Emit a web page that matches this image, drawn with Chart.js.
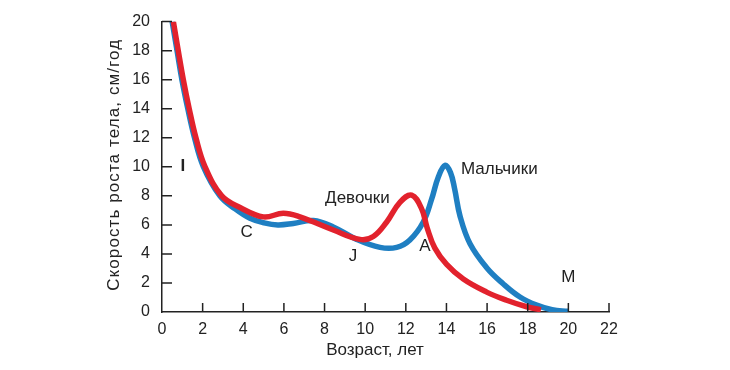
<!DOCTYPE html>
<html>
<head>
<meta charset="utf-8">
<script src="https://cdn.jsdelivr.net/npm/chart.js@4"></script>
<style>
  html, body { margin: 0; padding: 0; background: #fff; }
  #wrap { width: 730px; height: 370px; }
</style>
</head>
<body>
<div id="wrap"><canvas id="growthChart" width="730" height="370"></canvas></div>
<script>
// Скорость роста (см/год) в зависимости от возраста (лет)
const girlsAge = [0.56, 0.8, 1.05, 1.34, 1.67, 2.12, 2.94, 3.84, 4.99, 5.97, 6.79, 8.43, 9.74, 10.4, 11.06, 11.71, 12.29, 12.78, 13.05, 13.43, 14.01, 14.83, 15.98, 16.96, 17.95, 18.65];
const girlsSpeed = [20, 18, 16, 14, 12, 10, 8, 7.2, 6.55, 6.8, 6.55, 5.65, 5.0, 5.2, 6.2, 7.55, 8.05, 7.1, 5.8, 4.4, 3.28, 2.27, 1.37, 0.81, 0.36, 0.15];

const boysAge = [0.5, 0.74, 0.98, 1.27, 1.6, 2.04, 2.85, 3.6, 4.33, 5.0, 5.7, 6.46, 7.45, 8.43, 9.58, 10.73, 11.55, 12.2, 12.86, 13.27, 13.6, 13.93, 14.2, 14.4, 14.67, 15.16, 15.98, 16.8, 17.62, 18.44, 19.2, 20.0];
const boysSpeed = [20, 18, 16, 14, 12, 10, 8, 7.1, 6.45, 6.15, 6.0, 6.1, 6.3, 5.86, 5.0, 4.45, 4.45, 4.96, 6.2, 7.77, 9.3, 10.1, 9.6, 8.5, 6.6, 4.7, 3.05, 1.93, 1.03, 0.47, 0.15, 0.05];

const xTicks = [0, 2, 4, 6, 8, 10, 12, 14, 16, 18, 20, 22];
const yTicks = [0, 2, 4, 6, 8, 10, 12, 14, 16, 18, 20];

// подписи на графике: текст и положение в единицах осей
const noteText = ['I', 'C', 'Девочки', 'J', 'A', 'Мальчики', 'M'];
const noteX = [1.03, 4.17, 9.62, 9.4, 12.94, 16.6, 20.0];
const noteY = [10.0, 5.5, 7.8, 3.84, 4.5, 9.83, 2.38];

const toPoints = (xs, ys) => xs.map((x, i) => ({ x: x, y: ys[i] }));

const inkColor = '#222';
const fontFamily = '"Liberation Sans", Arial, sans-serif';

// Засечки внутрь области графика, подписи и названия осей
const innerTicks = {
    id: 'innerTicks',
    afterDatasetsDraw(chart) {
        const { ctx, scales: { x, y } } = chart;
        ctx.save();
        ctx.strokeStyle = inkColor;
        ctx.lineWidth = 1.5;
        ctx.beginPath();
        xTicks.forEach(v => {
            if (v === 0) return;
            const px = x.getPixelForValue(v);
            ctx.moveTo(px, y.bottom);
            ctx.lineTo(px, y.bottom - 9);
        });
        yTicks.forEach(v => {
            if (v === 0) return;
            const py = y.getPixelForValue(v);
            ctx.moveTo(x.left, py);
            ctx.lineTo(x.left + 10, py);
        });
        ctx.stroke();

        ctx.fillStyle = inkColor;
        ctx.textAlign = 'center';
        ctx.textBaseline = 'middle';
        noteText.forEach((t, i) => {
            ctx.font = (t === 'I' ? 'bold ' : '') + '17px ' + fontFamily;
            ctx.fillText(t, x.getPixelForValue(noteX[i]), y.getPixelForValue(noteY[i]));
        });

        // название оси X
        ctx.font = '17px ' + fontFamily;
        ctx.fillText('Возраст, лет', 375, 350);

        // название оси Y (чуть разрядка, как в оригинале)
        ctx.translate(114, (y.top + y.bottom) / 2 - 2);
        ctx.rotate(-Math.PI / 2);
        ctx.letterSpacing = '1.1px';
        ctx.fillText('Скорость роста тела, см/год', 0, 0);
        ctx.restore();
    }
};

const ctx = document.getElementById('growthChart').getContext('2d');
const growthChart = new Chart(ctx, {
    type: 'line',
    data: {
        datasets: [
            {
                label: 'Девочки',
                data: toPoints(girlsAge, girlsSpeed),
                borderColor: '#e2222d',
                borderWidth: 5.5,
                pointRadius: 0,
                tension: 0.4,
                fill: false
            },
            {
                label: 'Мальчики',
                data: toPoints(boysAge, boysSpeed),
                borderColor: '#1f7fc2',
                borderWidth: 5.5,
                pointRadius: 0,
                tension: 0.4,
                fill: false
            }
        ]
    },
    options: {
        responsive: false,
        animation: false,
        events: [],
        layout: {
            padding: { left: 0, right: 121, top: 15, bottom: 0 }
        },
        plugins: {
            legend: { display: false },
            tooltip: { enabled: false }
        },
        scales: {
            x: {
                type: 'linear',
                min: 0,
                max: 22,
                afterFit: scale => { scale.height = 58; },
                afterBuildTicks: scale => { scale.ticks = xTicks.map(v => ({ value: v })); },
                grid: { display: false, drawTicks: false },
                border: { display: true, color: inkColor, width: 1.5 },
                ticks: {
                    padding: 8,
                    color: inkColor,
                    maxRotation: 0,
                    font: { family: fontFamily, size: 16 }
                }
            },
            y: {
                min: 0,
                max: 20,
                afterFit: scale => { scale.width = 162; },
                afterBuildTicks: scale => { scale.ticks = yTicks.map(v => ({ value: v })); },
                grid: { display: false, drawTicks: false },
                border: { display: true, color: inkColor, width: 1.5 },
                ticks: {
                    padding: 12,
                    color: inkColor,
                    font: { family: fontFamily, size: 16 }
                }
            }
        }
    },
    plugins: [innerTicks]
});
</script>
</body>
</html>
